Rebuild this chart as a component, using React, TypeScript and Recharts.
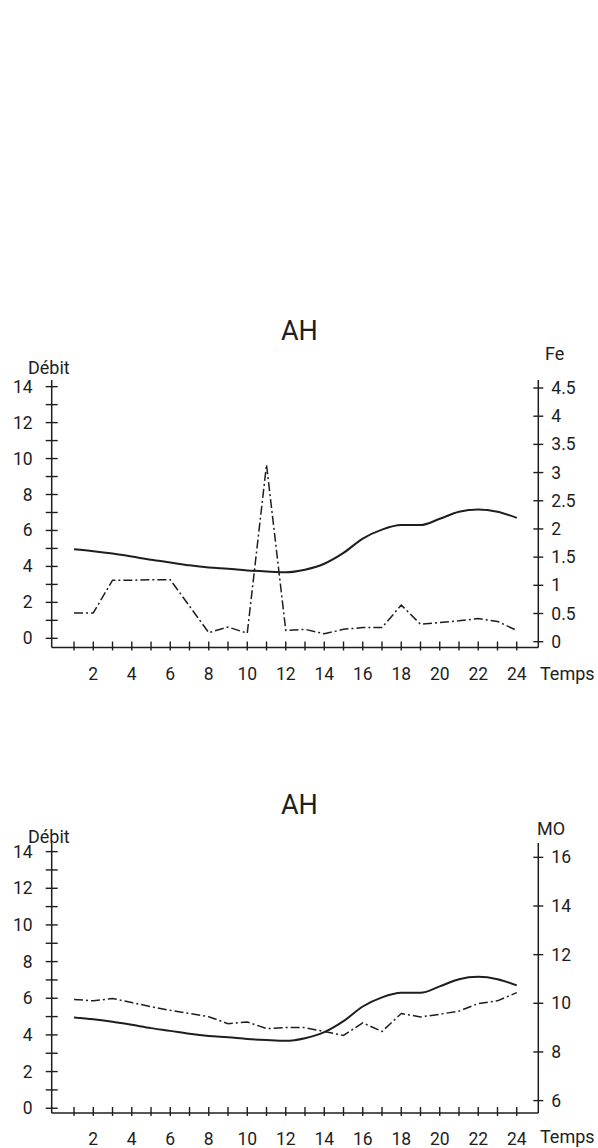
import { LineChart, Line, XAxis, YAxis } from "recharts";

const hours = [1, 2, 3, 4, 5, 6, 7, 8, 9, 10, 11, 12, 13, 14, 15, 16, 17, 18, 19, 20, 21, 22, 23, 24];
const debit = [4.95, 4.85, 4.72, 4.55, 4.37, 4.22, 4.06, 3.94, 3.87, 3.78, 3.72, 3.68, 3.82, 4.15, 4.75, 5.55, 6.05, 6.3, 6.3, 6.65, 7.04, 7.17, 7.04, 6.7];
const fe = [0.51, 0.51, 1.09, 1.09, 1.1, 1.1, 0.63, 0.16, 0.26, 0.15, 3.14, 0.2, 0.22, 0.14, 0.22, 0.25, 0.25, 0.65, 0.31, 0.34, 0.37, 0.41, 0.36, 0.2];
const mo = [10.16, 10.1, 10.2, 10.03, 9.86, 9.71, 9.58, 9.45, 9.16, 9.23, 8.96, 9.0, 9.0, 8.84, 8.68, 9.2, 8.84, 9.58, 9.44, 9.55, 9.68, 9.99, 10.1, 10.44];

const xTicks = hours;
const debitTicks = [0, 1, 2, 3, 4, 5, 6, 7, 8, 9, 10, 11, 12, 13, 14];
const feTicks = [0, 0.5, 1, 1.5, 2, 2.5, 3, 3.5, 4, 4.5];
const moTicks = [6, 8, 10, 12, 14, 16];

const topData = hours.map((t, i) => ({ t, debit: debit[i], fe: fe[i] }));
const bottomData = hours.map((t, i) => ({ t, debit: debit[i], mo: mo[i] }));

const INK = "#1e1e1e";
const FONT = "Roboto, 'DejaVu Sans', sans-serif";
const DASHDOT = "9 3 2 3";

function BottomTick({ x, y, payload }: any) {
  const v = payload.value;
  return (
    <g>
      <line x1={x} x2={x} y1={y - 6} y2={y + 3} stroke={INK} strokeWidth={1.4} />
      {v % 2 === 0 && (
        <text x={x} y={y + 32} textAnchor="middle" fontSize={17.5} fontFamily={FONT} fill={INK}>
          {v}
        </text>
      )}
    </g>
  );
}

function LeftTick({ x, y, payload }: any) {
  const v = payload.value;
  return (
    <g>
      <line x1={x - 6} x2={x + 6} y1={y} y2={y} stroke={INK} strokeWidth={1.4} />
      {v % 2 === 0 && (
        <text x={x - 19} y={y + 6} textAnchor="end" fontSize={17.5} fontFamily={FONT} fill={INK}>
          {v}
        </text>
      )}
    </g>
  );
}

function RightTick({ x, y, payload }: any) {
  return (
    <g>
      <line x1={x - 5} x2={x + 5} y1={y} y2={y} stroke={INK} strokeWidth={1.4} />
      <text x={x + 13} y={y + 6} textAnchor="start" fontSize={17.5} fontFamily={FONT} fill={INK}>
        {payload.value}
      </text>
    </g>
  );
}

const txt = (left: number, top: number, size: number, s: string) => (
  <div
    style={{
      position: "absolute",
      left,
      top,
      fontSize: size,
      lineHeight: 1,
      fontFamily: FONT,
      color: INK,
      whiteSpace: "nowrap",
    }}
  >
    {s}
  </div>
);

function Panel({ top, height, bottom, data, rightKey, rightDomain, rightTicks, leftDomain }: any) {
  return (
    <div style={{ position: "absolute", left: 0, top, width: 598, height }}>
      <LineChart width={598} height={height} data={data} margin={{ top: 80, right: 19.7, left: 11.7, bottom }}>
        <XAxis
          dataKey="t"
          type="number"
          domain={[-0.16, 25.12]}
          ticks={xTicks}
          allowDataOverflow
          interval={0}
          height={30}
          tickSize={0}
          tickMargin={0}
          tickLine={false}
          axisLine={{ stroke: INK, strokeWidth: 1.5 }}
          tick={<BottomTick />}
        />
        <YAxis
          yAxisId="left"
          type="number"
          domain={leftDomain}
          ticks={debitTicks}
          allowDataOverflow
          interval={0}
          width={40}
          tickSize={0}
          tickMargin={0}
          tickLine={false}
          axisLine={{ stroke: INK, strokeWidth: 1.5 }}
          tick={<LeftTick />}
        />
        <YAxis
          yAxisId="right"
          orientation="right"
          type="number"
          domain={rightDomain}
          ticks={rightTicks}
          allowDataOverflow
          interval={0}
          width={40}
          tickSize={0}
          tickMargin={0}
          tickLine={false}
          axisLine={{ stroke: INK, strokeWidth: 1.5 }}
          tick={<RightTick />}
        />
        <Line
          yAxisId="left"
          type="monotone"
          dataKey="debit"
          stroke={INK}
          strokeWidth={2}
          dot={false}
          isAnimationActive={false}
        />
        <Line
          yAxisId="right"
          type="linear"
          dataKey={rightKey}
          stroke={INK}
          strokeWidth={1.5}
          strokeDasharray={DASHDOT}
          dot={false}
          isAnimationActive={false}
        />
      </LineChart>
    </div>
  );
}

export default function App() {
  return (
    <div style={{ position: "absolute", left: 0, top: 0, width: 598, height: 1148, background: "#fff", overflow: "hidden" }}>
      {/* upper panel: débit + fer */}
      <Panel
        top={300}
        height={420}
        bottom={42.5}
        data={topData}
        rightKey="fe"
        leftDomain={[-0.51, 14.37]}
        rightDomain={[-0.103, 4.642]}
        rightTicks={feTicks}
      />
      {txt(281, 318, 27, "AH")}
      {txt(28, 359, 18, "Débit")}
      {txt(545, 345, 18, "Fe")}
      {txt(540, 665, 18, "Temps")}

      {/* lower panel: débit + matières organiques */}
      <Panel
        top={763}
        height={385}
        bottom={5}
        data={bottomData}
        rightKey="mo"
        leftDomain={[-0.26, 14.47]}
        rightDomain={[5.49, 16.59]}
        rightTicks={moTicks}
      />
      {txt(281, 792, 27, "AH")}
      {txt(28, 828, 18, "Débit")}
      {txt(537, 820, 18, "MO")}
      {txt(540, 1128, 18, "Temps")}
    </div>
  );
}
